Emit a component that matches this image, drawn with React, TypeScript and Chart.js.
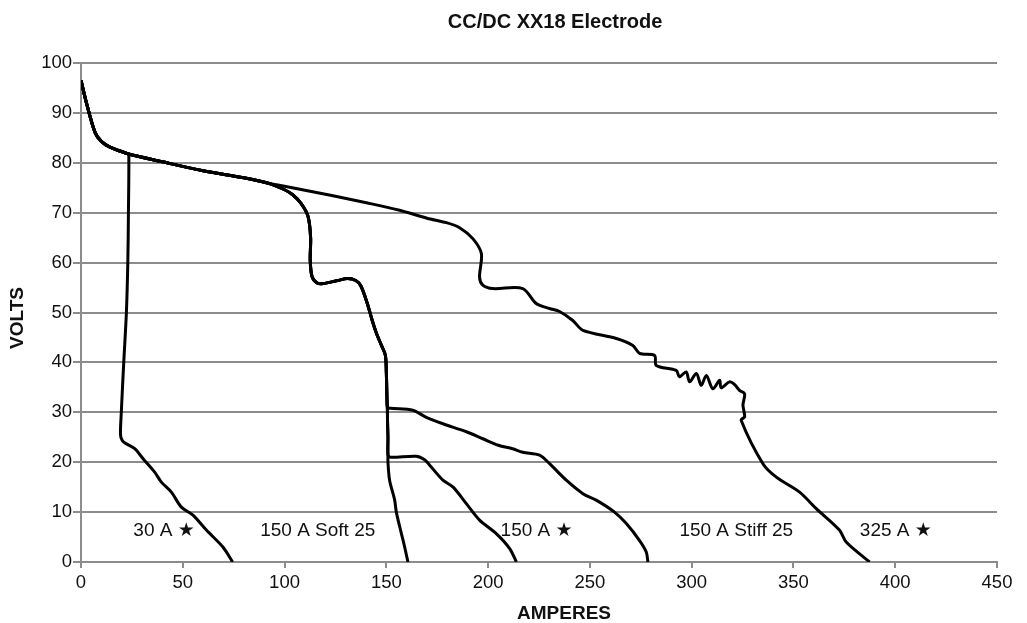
import React, { useEffect, useRef } from "react";
import { Chart, registerables } from "chart.js";

Chart.register(...registerables);

const chartTitle = "CC/DC XX18 Electrode";
const xAxisTitle = "AMPERES";
const yAxisTitle = "VOLTS";

const xTickMin = 0;
const xTickMax = 450;
const xTickStep = 50;
const yTickMin = 0;
const yTickMax = 100;
const yTickStep = 10;

// Shared open-circuit head of every curve [amperes, volts]
const headSegment: number[][] = [
  [0, 96.5], [3, 91.5], [7, 86], [10, 84.3], [14, 83.2], [23, 81.8],
];
// 30 A star curve
const curve30Segment: number[][] = [
  [23.5, 81.3], [23.3, 70], [23, 60], [22.3, 50], [21, 40], [19.8, 30], [19.4, 25.5],
  [20.2, 24.4], [21.8, 23.8], [26.4, 22.7], [30.5, 20.7], [36.2, 18], [39.5, 16],
  [44.4, 14], [49.3, 11], [55, 9.4], [61.6, 6.4], [69.7, 3], [74.5, 0],
];
// shared slope between ~23 A and ~93 A
const midSegment: number[][] = [
  [40, 80.2], [60, 78.4], [80, 77], [92, 75.9],
];
// 150 A branch shared by the three 150 A curves
const branch150Segment: number[][] = [
  [100, 74.6], [104, 73.6], [108, 71.9], [111.5, 69.3], [112.8, 65], [112.6, 60.5],
  [113.5, 57.2], [116, 55.9], [118.9, 55.8], [126, 56.4], [131, 56.8], [135, 56.4],
  [137.5, 55.3], [140.5, 52], [143, 48.5], [145, 46], [147.5, 43.5], [149.5, 41.5],
  [150, 38], [150.3, 33], [150.5, 31],
];
const stiffSegment: number[][] = [
  [152, 30.8], [163, 30.4], [169.6, 29], [177.8, 27.7], [189.3, 26.1], [197.4, 24.7],
  [205, 23.4], [212, 22.7], [217, 22], [225.3, 21.4], [230.2, 19.7], [238.4, 16.4],
  [246.6, 13.7], [253.1, 12.4], [262.1, 10], [267.9, 7.7], [274.4, 4.3], [277.7, 2],
  [278.5, 0],
];
const lowSharedSegment: number[][] = [
  [150.6, 28], [150.8, 25], [150.8, 21.5],
];
const starSegment: number[][] = [
  [152, 21], [164.7, 21.2], [168.8, 20.5], [171.3, 19.4], [177.8, 16.4], [182.8, 15],
  [189.3, 11.7], [195.8, 8.4], [204, 5.7], [210.6, 2.7], [213.9, 0],
];
const softSegment: number[][] = [
  [150.8, 20], [151.6, 16.4], [154.1, 12.4], [154.9, 10], [157.4, 5.7], [159, 3],
  [160.6, 0],
];
// 325 A star curve beyond the shared slope
const top325Segment: number[][] = [
  [100, 75.3], [123.8, 73.4], [140.2, 72], [156.5, 70.5], [170, 68.9], [179.5, 68],
  [186, 67], [192.5, 64.8], [196.7, 61.8], [195.8, 57.1], [197.4, 55.5], [202.3, 54.8],
  [217, 54.8], [223.6, 51.8], [230.2, 50.8], [235.1, 50.2], [241.6, 48.4], [246.6, 46.4],
  [263, 44.8], [271.1, 43.4], [274.4, 41.8], [281.8, 41.4], [282.6, 39.4], [292.4, 38.4],
  [294, 37.1], [297.3, 38.1], [299, 36.1], [302.3, 37.8], [304.7, 35.4], [307.2, 37.4],
  [310.4, 34.7], [313.7, 36.4], [314.5, 34.9], [318.6, 36.1], [321, 35.6], [323.5, 34.4],
  [326, 33.7], [325.2, 31.5], [325.6, 30.4], [326, 29.1], [324.3, 28.4], [335, 19.7],
  [341.6, 17], [353, 14], [361.2, 10.7], [372.6, 6.4], [375.9, 4], [387.4, 0],
];

const annotationLabels = ["30 A ★", "150 A Soft 25", "150 A ★", "150 A Stiff 25", "325 A ★"];
const annotationAmps = [40.8, 116.3, 223.8, 321.9, 400.3];
const annotationVolts = [6.2, 6.2, 6.2, 6.2, 6.2];

const toPoints = (...segs: number[][][]) =>
  segs.flat().map(([x, y]) => ({ x, y }));

const FONT = "'Liberation Sans', Arial, Helvetica, sans-serif";
const GRID = "#8c8c8c";

export default function App() {
  const ref = useRef<HTMLCanvasElement | null>(null);

  useEffect(() => {
    if (!ref.current) return;

    const textPlugin = {
      id: "texts",
      afterDraw(chart: any) {
        const ctx = chart.ctx;
        const xs = chart.scales.x;
        const ys = chart.scales.y;
        ctx.save();
        ctx.fillStyle = "#111";
        ctx.textAlign = "center";
        ctx.textBaseline = "middle";
        ctx.font = `bold 20px ${FONT}`;
        ctx.fillText(chartTitle, 555, 22);
        ctx.font = `bold 19px ${FONT}`;
        ctx.fillText(xAxisTitle, 564, 614);
        ctx.save();
        ctx.translate(18, 318);
        ctx.rotate(-Math.PI / 2);
        ctx.fillText(yAxisTitle, 0, 0);
        ctx.restore();
        ctx.font = `19px ${FONT}, 'DejaVu Sans'`;
        annotationLabels.forEach((t, i) => {
          ctx.fillText(t, xs.getPixelForValue(annotationAmps[i]), ys.getPixelForValue(annotationVolts[i]));
        });
        ctx.restore();
      },
    };

    const mk = (data: any[]) => ({
      data,
      showLine: true,
      borderColor: "#000",
      borderWidth: 3,
      pointRadius: 0,
      pointHoverRadius: 0,
      tension: 0.3,
      fill: false,
    });

    const chart = new Chart(ref.current, {
      type: "scatter",
      data: {
        datasets: [
          mk(toPoints(headSegment, curve30Segment)),
          mk(toPoints(headSegment, midSegment, branch150Segment, lowSharedSegment, softSegment)),
          mk(toPoints(headSegment, midSegment, branch150Segment, lowSharedSegment, starSegment)),
          mk(toPoints(headSegment, midSegment, branch150Segment, stiffSegment)),
          mk(toPoints(headSegment, midSegment, top325Segment)),
        ],
      },
      options: {
        animation: false,
        responsive: false,
        layout: { padding: { top: 63, right: 30, bottom: 0, left: 0 } },
        plugins: {
          legend: { display: false },
          title: { display: false },
          tooltip: { enabled: false },
        },
        scales: {
          x: {
            type: "linear",
            min: xTickMin,
            max: xTickMax,
            ticks: { stepSize: xTickStep, color: "#111", font: { family: FONT, size: 18.5 }, padding: 4, maxRotation: 0 },
            grid: { drawOnChartArea: false, drawTicks: true, tickLength: 6, color: GRID, lineWidth: 2 },
            border: { color: GRID, width: 2 },
            afterFit: (s: any) => { s.height = 61; },
          },
          y: {
            type: "linear",
            min: yTickMin,
            max: yTickMax,
            ticks: { stepSize: yTickStep, color: "#111", font: { family: FONT, size: 18.5 }, padding: 1 },
            grid: { color: GRID, lineWidth: 2, tickLength: 8, drawTicks: true },
            border: { color: GRID, width: 2 },
            afterFit: (s: any) => { s.width = 81; },
          },
        },
      },
      plugins: [textPlugin],
    } as any);

    return () => chart.destroy();
  }, []);

  return (
    <div style={{ position: "fixed", left: 0, top: 0, width: 1027, height: 623, background: "#fff" }}>
      <canvas ref={ref} width={1027} height={623} style={{ display: "block" }} />
    </div>
  );
}
